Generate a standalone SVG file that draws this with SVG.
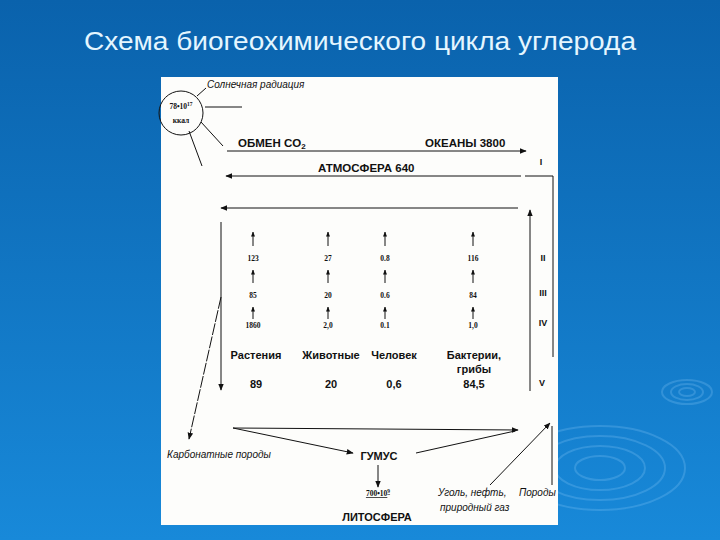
<svg xmlns="http://www.w3.org/2000/svg" width="720" height="540" viewBox="0 0 720 540">
<defs>
<linearGradient id="bg" x1="0" y1="0" x2="0" y2="1">
<stop offset="0" stop-color="#0a62ac"/>
<stop offset="1" stop-color="#1889d9"/>
</linearGradient>
<marker id="ah" viewBox="0 0 10 10" refX="9" refY="5" markerWidth="7" markerHeight="7" markerUnits="userSpaceOnUse" orient="auto">
<path d="M0,1 L10,5 L0,9 z" fill="#111"/>
</marker>
<marker id="as" viewBox="0 0 10 10" refX="9" refY="5" markerWidth="5" markerHeight="5" markerUnits="userSpaceOnUse" orient="auto">
<path d="M0,1 L10,5 L0,9 z" fill="#111"/>
</marker>
</defs>
<style>
.t{font-family:"Liberation Sans",Arial,sans-serif;font-weight:bold;font-size:11px;fill:#111;text-anchor:middle}
.h{font-family:"Liberation Sans",Arial,sans-serif;font-weight:bold;font-size:11.5px;fill:#111}
.s{font-family:"Liberation Serif","Times New Roman",serif;font-weight:bold;font-size:7.5px;fill:#111;text-anchor:middle}
.i{font-family:"Liberation Sans",Arial,sans-serif;font-style:italic;font-size:10px;fill:#111}
.r{font-family:"Liberation Sans",Arial,sans-serif;font-weight:bold;font-size:9px;fill:#111;text-anchor:middle}
.l{stroke:#111;stroke-width:1;fill:none}
.a{stroke:#111;stroke-width:1;fill:none;marker-end:url(#ah)}
.sa{stroke:#111;stroke-width:1;fill:none;marker-end:url(#as)}
.rip{fill:none;stroke:#9fd4ff;stroke-opacity:0.22;stroke-width:2}
</style>
<rect width="720" height="540" fill="url(#bg)"/>
<g id="ripples">
<ellipse class="rip" cx="687" cy="392" rx="8" ry="4"/>
<ellipse class="rip" cx="687" cy="392" rx="16" ry="8"/>
<ellipse class="rip" cx="687" cy="392" rx="25" ry="12"/>
<ellipse class="rip" cx="600" cy="468" rx="25" ry="12"/>
<ellipse class="rip" cx="600" cy="468" rx="45" ry="22"/>
<ellipse class="rip" cx="600" cy="468" rx="65" ry="32"/>
<ellipse class="rip" cx="600" cy="468" rx="85" ry="42"/>
</g>
<text x="360" y="50" font-family="Liberation Sans,Arial,sans-serif" font-size="25" fill="#e4f6ff" text-anchor="middle" textLength="552" lengthAdjust="spacingAndGlyphs">Схема биогеохимического цикла углерода</text>
<rect x="161" y="77" width="397" height="448" fill="#fdfdfb"/>
<g id="connectors">
<line class="l" x1="197" y1="96" x2="206" y2="88"/>
<line class="l" x1="205" y1="107" x2="242" y2="107"/>
<line class="l" x1="201" y1="122" x2="223" y2="146"/>
<line class="l" x1="189" y1="131" x2="202" y2="166"/>
<line class="a" x1="227" y1="151" x2="526" y2="151"/>
<line class="a" x1="521" y1="176" x2="226" y2="176"/>
<polyline class="l" points="525,176 553,176 553,357"/>
<line class="a" x1="518" y1="208" x2="221" y2="208"/>
<line class="a" x1="530" y1="391" x2="530" y2="210"/>
<line class="a" x1="221" y1="222" x2="221" y2="390"/>
<line class="sa" x1="253" y1="246" x2="253" y2="232"/>
<line class="sa" x1="328" y1="246" x2="328" y2="232"/>
<line class="sa" x1="385" y1="246" x2="385" y2="232"/>
<line class="sa" x1="473" y1="246" x2="473" y2="232"/>
<line class="sa" x1="253" y1="283" x2="253" y2="270"/>
<line class="sa" x1="328" y1="283" x2="328" y2="270"/>
<line class="sa" x1="385" y1="283" x2="385" y2="270"/>
<line class="sa" x1="473" y1="283" x2="473" y2="270"/>
<line class="sa" x1="253" y1="319" x2="253" y2="307"/>
<line class="sa" x1="328" y1="319" x2="328" y2="307"/>
<line class="sa" x1="385" y1="319" x2="385" y2="307"/>
<line class="sa" x1="473" y1="319" x2="473" y2="307"/>
<line class="a" x1="221" y1="297" x2="189" y2="439" stroke-width="0.8" stroke-dasharray="12,1.5"/>
<line class="a" x1="233" y1="428" x2="518" y2="430"/>
<line class="a" x1="233" y1="428" x2="353" y2="453"/>
<line class="l" x1="416" y1="453" x2="515" y2="431"/>
<line class="a" x1="378" y1="465" x2="378" y2="487"/>
<line class="a" x1="490" y1="485" x2="550" y2="423"/>
<line class="l" x1="552" y1="485" x2="552" y2="426"/>
</g>
<g id="sun">
<circle cx="181" cy="113" r="22" fill="none" stroke="#111" stroke-width="1"/>
<text class="s" x="181" y="109" font-size="8">78•10<tspan font-size="5.5" dy="-3">17</tspan></text>
<text class="s" x="181" y="123" font-size="8">ккал</text>
<text class="i" x="207" y="88">Солнечная радиация</text>
</g>
<g id="obmen"><text class="h" x="238" y="147">ОБМЕН CO<tspan font-size="8" dy="2">2</tspan></text></g>
<g id="okeany"><text class="h" x="425" y="147">ОКЕАНЫ 3800</text></g>
<g id="atmosfera"><text class="h" x="318" y="172">АТМОСФЕРА 640</text></g>
<g id="levels">
<text class="r" x="541" y="165">I</text>
<text class="r" x="543" y="261">II</text>
<text class="r" x="543" y="296">III</text>
<text class="r" x="543" y="326">IV</text>
<text class="r" x="542" y="386">V</text>
</g>
<g id="rasteniya">
<text class="s" x="253" y="261">123</text>
<text class="s" x="253" y="298">85</text>
<text class="s" x="253" y="328">1860</text>
<text class="t" x="256" y="359">Растения</text>
<text class="t" x="256" y="388">89</text>
</g>
<g id="zhivotnye">
<text class="s" x="328" y="261">27</text>
<text class="s" x="328" y="298">20</text>
<text class="s" x="328" y="328">2,0</text>
<text class="t" x="331" y="359">Животные</text>
<text class="t" x="331" y="388">20</text>
</g>
<g id="chelovek">
<text class="s" x="385" y="261">0.8</text>
<text class="s" x="385" y="298">0.6</text>
<text class="s" x="385" y="328">0.1</text>
<text class="t" x="394" y="359">Человек</text>
<text class="t" x="394" y="388">0,6</text>
</g>
<g id="bakterii">
<text class="s" x="473" y="261">116</text>
<text class="s" x="473" y="298">84</text>
<text class="s" x="473" y="328">1,0</text>
<text class="t" x="474" y="359">Бактерии,</text>
<text class="t" x="474" y="373">грибы</text>
<text class="t" x="474" y="388">84,5</text>
</g>
<g id="karbonat"><text class="i" x="167" y="458">Карбонатные породы</text></g>
<g id="gumus">
<text class="t" x="379" y="460">ГУМУС</text>
<text class="s" x="378" y="496" text-decoration="underline">700•10<tspan font-size="5.5" dy="-3">9</tspan></text>
</g>
<g id="ugol"><text class="i" x="438" y="496">Уголь, нефть,</text><text class="i" x="440" y="511">природный газ</text></g>
<g id="porody"><text class="i" x="519" y="496" font-size="9">Породы</text></g>
<g id="litosfera"><text class="t" x="377" y="521">ЛИТОСФЕРА</text></g>
</svg>
